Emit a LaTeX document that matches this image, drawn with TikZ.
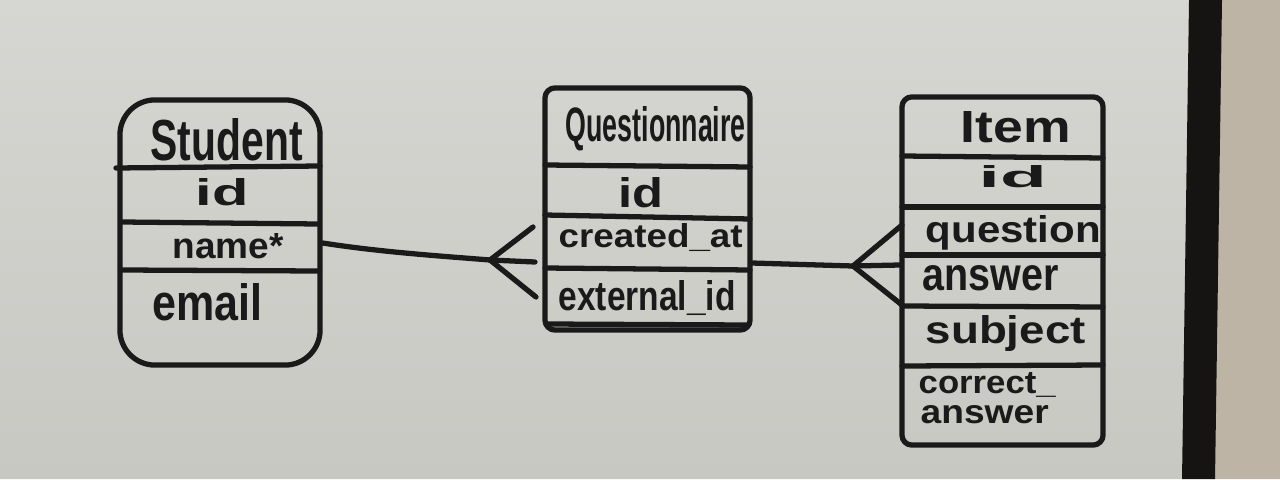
\documentclass[tikz,border=0pt]{standalone}
\usepackage{fontspec}
\setmainfont{Liberation Sans}
\usepackage{graphicx}
\newlength\upx \setlength\upx{0.01cm}
\newcommand\hw[3]{\resizebox{#1\upx}{#2\upx}{\bfseries #3}}
\definecolor{ink}{HTML}{1A1A1A}
\definecolor{boardtop}{HTML}{D6D6D2}
\definecolor{boardbot}{HTML}{C8C8C3}
\definecolor{wall}{HTML}{BDB4A6}
\definecolor{frame}{HTML}{161412}
\tikzset{
  pen/.style={draw=ink, line width=1.5pt, line cap=round, line join=round},
  entity/.style={pen, inner sep=0pt, fill=none},
  lbl/.style={anchor=base west, inner sep=0pt, text=ink},
}
\begin{document}
\begin{tikzpicture}[x=0.01cm,y=-0.01cm]
\useasboundingbox (0,0) rectangle (1280,479);
% whiteboard, frame and wall
\shade[top color=boardtop, bottom color=boardbot] (0,0) -- (1190,0) -- (1183,479) -- (0,479) -- cycle;
\fill[wall] (1215,0) -- (1280,0) -- (1280,479) -- (1210,479) -- cycle;
\fill[frame] (1189,0) -- (1222,0) -- (1215,479) -- (1182,479) -- cycle;

% entities
\node[entity, rounded corners=0.35cm, minimum width=2.00cm, minimum height=2.65cm] (student) at (220,232.5) {};
\node[entity, rounded corners=0.10cm, minimum width=2.05cm, minimum height=2.42cm] (quest) at (647.5,209) {};
\node[entity, rounded corners=0.10cm, minimum width=2.01cm, minimum height=3.48cm] (item) at (1002.5,271) {};

% row separators
\draw[pen] (116,168) -- (320,166);
\draw[pen] (122,222) -- (318,224);
\draw[pen] (122,270) -- (318,271);
\draw[pen] (545,165) -- (750,167);
\draw[pen] (545,215) -- (750,219);
\draw[pen] (545,268) -- (750,270);
\draw[pen] (547,324) -- (748,325);
\draw[pen] (902,156) -- (1103,158);
\draw[pen] (902,207) -- (1103,207);
\draw[pen] (902,255) -- (1103,255);
\draw[pen] (902,306) -- (1103,307);
\draw[pen] (902,366) -- (1103,365);

% labels
\node[lbl] (tStudent) at (150,160) {\hw{152}{42}{Student}};
\node[lbl] (sId) at (195,205) {\hw{53}{27}{id}};
\node[lbl] (sName) at (172,258) {\hw{111}{25}{name*}};
\node[lbl] (sEmail) at (152,320) {\hw{110}{37}{email}};

\node[lbl] (tQuest) at (565,142) {\hw{180}{35}{Questionnaire}};
\node[lbl] (qId) at (618,207) {\hw{45}{30}{id}};
\node[lbl] (qCreated) at (558,247) {\hw{184}{24}{created\_at}};
\node[lbl] (qExternal) at (558,310) {\hw{177}{30}{external\_id}};

\node[lbl] (tItem) at (960,143) {\hw{110}{31}{Item}};
\node[lbl] (iId) at (978,187) {\hw{68}{22}{id}};
\node[lbl] (iQuestion) at (925,242) {\hw{175}{27}{question}};
\node[lbl] (iAnswer) at (922,290) {\hw{136}{25}{answer}};
\node[lbl] (iSubject) at (925,343) {\hw{160}{28}{subject}};
\node[lbl] (iCorrect) at (918,393) {\hw{137}{21}{correct\_}};
\node[lbl] (iCorrect2) at (920,423) {\hw{128}{18}{answer}};

% connector Student -- Questionnaire (crow's foot at Questionnaire)
\coordinate (crowA) at (490,260);
\coordinate (pA1) at (533,227);
\coordinate (pA2) at (535,262);
\coordinate (pA3) at (536,297);
\draw[pen] ([yshift=-0.105cm]student.east) .. controls (380,252) and (440,256) .. (crowA);
\draw[pen] (pA1) -- (crowA) -- (pA3);
\draw[pen] (crowA) -- (pA2);

% connector Questionnaire -- Item (crow's foot at Item)
\coordinate (crowB) at (853,266);
\coordinate (pB1) at (902,225);
\coordinate (pB2) at (900,265);
\coordinate (pB3) at (902,305);
\draw[pen] ([yshift=-0.54cm]quest.east) -- (crowB);
\draw[pen] (pB1) -- (crowB) -- (pB3);
\draw[pen] (crowB) -- (pB2);
\end{tikzpicture}
\end{document}
